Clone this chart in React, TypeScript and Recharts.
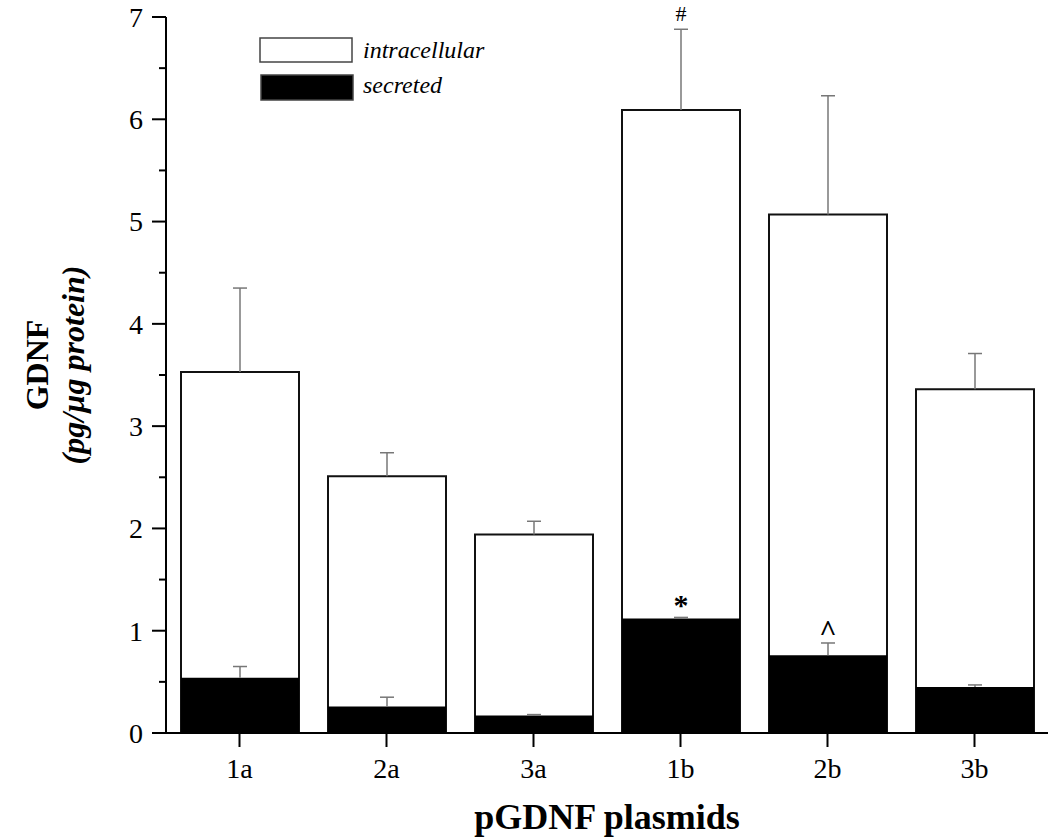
import React from 'react';
import { BarChart, Bar, XAxis, YAxis, LabelList, Legend, Label } from 'recharts';

const plasmids = ['1a', '2a', '3a', '1b', '2b', '3b'];
const intracellular = [3.53, 2.51, 1.94, 6.09, 5.07, 3.36];
const intracellularErr = [0.82, 0.23, 0.13, 0.79, 1.16, 0.35];
const secreted = [0.54, 0.26, 0.17, 1.12, 0.76, 0.45];
const secretedErr = [0.11, 0.09, 0.01, 0.01, 0.12, 0.02];
const intracellularMarks = ['', '', '', '#', '', ''];
const secretedMarks = ['', '', '', '*', '^', ''];
const yTicks = [0, 0.5, 1, 1.5, 2, 2.5, 3, 3.5, 4, 4.5, 5, 5.5, 6, 6.5, 7];
const boundaryTicks = [0, 1, 2, 3, 4, 5, 6];

const FONT = '"Liberation Serif", "Times New Roman", serif';

const data = plasmids.map((name, i) => ({
  name,
  intracellular: intracellular[i],
  intraErr: intracellularErr[i],
  secreted: secreted[i],
  secErr: secretedErr[i],
}));

const YTick = (props: any) => {
  const { x, y, payload } = props;
  const major = Number.isInteger(payload.value);
  return (
    <g>
      <line x1={x - (major ? 14 : 7)} x2={x} y1={y} y2={y} stroke="#000" strokeWidth={2} />
      {major && (
        <text x={x - 23} y={y} dy="0.35em" textAnchor="end" fontSize={28} fontFamily={FONT} fill="#000">
          {payload.value}
        </text>
      )}
    </g>
  );
};

// upper-only error whisker + significance mark, scaled by the bar's own px/unit
const errorLabel = (values: number[], marks: string[], size: number, weight: string, gap: number) => (props: any) => {
  const { x, y, width, height, value, index } = props;
  const ppu = height / values[index];
  const top = y - value * ppu;
  const cx = x + width / 2;
  return (
    <g>
      <line x1={cx} x2={cx} y1={y} y2={top} stroke="#777" strokeWidth={1.5} />
      <line x1={cx - 7} x2={cx + 7} y1={top} y2={top} stroke="#777" strokeWidth={1.5} />
      {marks[index] && (
        <text x={cx} y={top - gap} textAnchor="middle" fontSize={size} fontWeight={weight} fontFamily={FONT} fill="#000">
          {marks[index]}
        </text>
      )}
    </g>
  );
};

const renderLegend = (props: any) => {
  const { payload } = props;
  return (
    <svg width={240} height={66}>
      {payload.map((entry: any, i: number) => (
        <g key={entry.value}>
          <rect
            x={1 + i}
            y={1 + i * 37}
            width={92}
            height={24 + i}
            fill={entry.color}
            stroke="#444"
            strokeWidth={1.5}
          />
          <text x={104} y={21 + i * 35} fontSize={24} fontStyle="italic" fontFamily={FONT} fill="#000">
            {entry.value}
          </text>
        </g>
      ))}
    </svg>
  );
};

const YLabel = (props: any) => {
  const { viewBox } = props;
  const cy = viewBox.y + viewBox.height / 2 - 10;
  return (
    <g>
      <text
        x={48}
        y={cy}
        transform={`rotate(-90, 48, ${cy})`}
        textAnchor="middle"
        fontSize={32}
        fontWeight="bold"
        fontFamily={FONT}
        fill="#000"
      >
        GDNF
      </text>
      <text
        x={84}
        y={cy}
        transform={`rotate(-90, 84, ${cy})`}
        textAnchor="middle"
        fontSize={32}
        fontWeight="bold"
        fontStyle="italic"
        fontFamily={FONT}
        fill="#000"
      >
        (pg/µg protein)
      </text>
    </g>
  );
};

export default function App() {
  return (
    <div style={{ position: 'absolute', left: 0, top: 0, background: '#fff' }}>
      <BarChart
        width={1050}
        height={839}
        data={data}
        margin={{ top: 17, right: 2, bottom: 0, left: 0 }}
        barSize={118}
        barGap={-118}
      >
        <XAxis
          xAxisId="bounds"
          type="number"
          domain={[0, 6]}
          ticks={boundaryTicks}
          allowDataOverflow
          height={0}
          tick={false}
          tickSize={7}
          tickLine={{ stroke: '#000', strokeWidth: 2 }}
          axisLine={false}
        />
        <XAxis
          xAxisId="cat"
          dataKey="name"
          height={106}
          tickSize={14}
          tickMargin={11}
          tickLine={{ stroke: '#000', strokeWidth: 2 }}
          axisLine={{ stroke: '#000', strokeWidth: 2 }}
          tick={{ fontSize: 28, fontFamily: FONT, fill: '#000' }}
        >
          <Label
            value="pGDNF plasmids"
            position="insideBottom"
            offset={10}
            fontSize={36}
            fontWeight="bold"
            fontFamily={FONT}
            fill="#000"
          />
        </XAxis>
        <YAxis
          width={166}
          domain={[0, 7]}
          ticks={yTicks}
          interval={0}
          tickSize={0}
          tickMargin={0}
          tickLine={false}
          axisLine={{ stroke: '#000', strokeWidth: 2 }}
          tick={<YTick />}
        >
          <Label content={<YLabel />} />
        </YAxis>
        <Legend
          layout="vertical"
          align="center"
          verticalAlign="middle"
          content={renderLegend}
          wrapperStyle={{ left: 259, top: 37, width: 240, height: 66 }}
        />
        <Bar
          xAxisId="cat"
          dataKey="intracellular"
          name="intracellular"
          fill="#fff"
          stroke="#111"
          strokeWidth={2}
          isAnimationActive={false}
        >
          <LabelList dataKey="intraErr" content={errorLabel(intracellular, intracellularMarks, 22, 'normal', 8)} />
        </Bar>
        <Bar
          xAxisId="cat"
          dataKey="secreted"
          name="secreted"
          fill="#000"
          isAnimationActive={false}
        >
          <LabelList dataKey="secErr" content={errorLabel(secreted, secretedMarks, 30, 'bold', 2)} />
        </Bar>
      </BarChart>
    </div>
  );
}
